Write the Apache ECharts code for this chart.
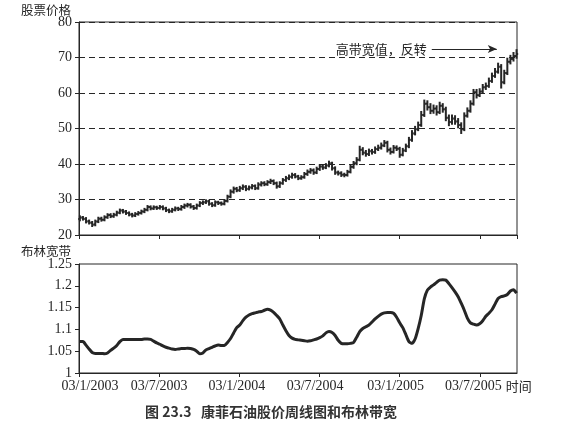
<!DOCTYPE html>
<html>
<head>
<meta charset="utf-8">
<script src="https://cdn.jsdelivr.net/npm/echarts@6/dist/echarts.min.js"></script>
<style>
html,body{margin:0;padding:0;background:#fff;}
#chart{width:566px;height:443px;}
</style>
</head>
<body>
<div id="chart"></div>
<script>
// Weekly bars, first week ending early January 2003
const priceOpen = [
24.5,24.9,24.5,23.9,23.4,23.0,23.8,24.6,24.3,25.0,
25.6,25.3,25.7,26.3,26.9,26.6,26.2,25.8,25.5,25.9,
26.2,26.6,27.1,27.9,27.5,27.8,27.6,27.9,27.5,27.0,
26.7,27.1,27.5,27.3,27.9,28.3,28.5,28.0,27.6,28.3,
29.0,29.2,29.5,28.8,28.4,29.2,29.0,28.8,29.6,30.8,
32.2,33.0,32.6,33.2,33.6,33.0,33.4,33.8,33.2,34.2,
34.6,34.3,34.9,35.2,34.6,33.7,34.6,35.5,36.0,36.4,
36.9,36.5,36.0,36.3,37.2,37.8,38.2,37.6,38.6,39.3,
39.0,39.6,40.2,38.8,37.6,37.4,37.0,36.9,37.8,39.2,
40.2,41.2,44.0,43.2,42.8,43.6,43.4,44.2,44.6,45.2,
46.0,44.0,43.4,44.6,44.3,42.6,43.8,45.0,46.8,48.6,
49.8,51.0,53.8,57.0,56.0,55.0,55.6,54.6,56.4,55.4,
53.0,51.8,52.8,52.0,51.0,49.8,53.6,55.0,57.0,60.2,
59.4,60.4,61.6,62.0,63.4,64.8,66.0,67.4,63.0,65.6,
68.8,69.6,70.4
];
const priceHigh = [
25.4,25.2,24.9,24.2,23.8,24.2,25.0,25.0,25.4,26.0,
26.0,26.1,26.7,27.3,27.2,26.9,26.5,26.1,26.3,26.6,
27.0,27.5,28.3,28.2,28.2,28.1,28.3,28.2,27.8,27.3,
27.5,27.9,27.8,28.3,28.7,28.9,28.8,28.3,28.7,29.4,
29.6,29.9,29.8,29.1,29.6,29.5,29.3,30.0,31.2,32.7,
33.5,33.4,33.7,34.1,33.9,33.8,34.2,34.1,34.7,35.0,
35.0,35.3,35.7,35.5,34.9,35.0,35.9,36.5,36.9,37.4,
37.3,36.8,36.7,37.6,38.3,38.7,38.6,39.1,39.8,39.7,
40.1,40.8,40.5,39.2,38.0,37.8,37.4,38.2,39.7,40.7,
41.8,45.0,44.6,43.8,44.2,44.1,44.8,45.3,45.9,46.6,
46.4,44.5,45.2,45.1,44.7,44.4,45.6,47.5,49.4,50.6,
51.8,54.8,58.0,57.8,57.0,56.6,56.4,57.4,57.0,56.0,
53.8,53.8,53.6,52.8,51.6,54.4,55.8,57.8,61.0,61.0,
61.2,62.4,62.8,64.2,65.6,66.9,68.4,68.0,66.4,69.8,
70.6,71.4,72.2
];
const priceLow = [
24.0,24.2,23.4,23.1,22.4,22.6,23.5,23.9,24.0,24.7,
24.9,25.0,25.4,26.0,26.2,25.8,25.4,25.1,25.2,25.6,
25.9,26.3,26.8,27.1,27.2,27.2,27.3,27.1,26.6,26.3,
26.4,26.8,26.9,27.0,27.5,27.9,27.6,27.2,27.3,28.0,
28.6,28.9,28.4,28.0,28.1,28.6,28.4,28.5,29.3,30.5,
31.8,32.2,32.3,32.8,32.5,32.7,33.0,32.8,32.9,33.8,
33.9,34.0,34.5,34.2,33.2,33.4,34.3,35.1,35.6,36.0,
36.1,35.6,35.7,36.0,36.8,37.4,37.1,37.3,38.2,38.5,
38.7,39.2,38.3,37.1,36.9,36.5,36.4,36.6,37.5,38.8,
39.8,40.9,42.6,42.2,42.4,42.8,43.0,43.8,44.2,44.9,
43.4,42.8,43.1,43.8,41.9,42.3,43.5,44.6,46.4,48.2,
49.4,50.6,53.4,55.2,54.2,54.3,53.8,54.2,54.6,52.2,
50.8,51.2,51.2,50.2,48.6,49.4,53.2,54.6,56.6,58.6,
59.0,60.0,61.0,61.6,63.0,64.4,65.6,61.4,62.6,65.2,
68.2,69.0,69.8
];
const priceClose = [
24.9,24.6,23.8,23.5,22.9,23.8,24.6,24.3,25.0,25.6,
25.3,25.7,26.3,26.9,26.6,26.2,25.8,25.5,25.9,26.2,
26.6,27.1,27.9,27.5,27.8,27.6,27.9,27.5,27.0,26.7,
27.1,27.5,27.3,27.9,28.3,28.5,28.0,27.6,28.3,29.0,
29.2,29.5,28.8,28.4,29.2,29.0,28.8,29.6,30.8,32.2,
33.0,32.6,33.2,33.6,33.0,33.4,33.8,33.2,34.2,34.6,
34.3,34.9,35.2,34.6,33.7,34.6,35.5,36.0,36.4,36.9,
36.5,36.0,36.3,37.2,37.8,38.2,37.6,38.6,39.3,39.0,
39.6,40.2,38.8,37.6,37.4,37.0,36.9,37.8,39.2,40.2,
41.2,44.0,43.2,42.8,43.6,43.4,44.2,44.6,45.2,46.0,
44.0,43.4,44.6,44.3,42.6,43.8,45.0,46.8,48.6,49.8,
51.0,53.8,57.0,56.0,55.0,55.6,54.6,56.4,55.4,53.0,
51.8,52.8,52.0,51.0,49.8,53.6,55.0,57.0,60.2,59.4,
60.4,61.6,62.0,63.4,64.8,66.0,67.4,63.0,65.6,68.8,
69.6,70.4,71.0
];
const bandWidth = [
1.072,1.072,1.064,1.055,1.047,1.045,1.045,1.045,1.044,1.046,
1.052,1.057,1.063,1.072,1.077,1.077,1.077,1.077,1.077,1.077,
1.077,1.078,1.078,1.077,1.073,1.069,1.066,1.062,1.059,1.057,
1.055,1.054,1.055,1.056,1.056,1.057,1.056,1.054,1.050,1.044,
1.046,1.053,1.056,1.059,1.062,1.064,1.063,1.063,1.070,1.079,
1.092,1.104,1.110,1.120,1.128,1.133,1.136,1.138,1.140,1.141,
1.144,1.146,1.144,1.139,1.132,1.124,1.110,1.097,1.086,1.080,
1.077,1.076,1.075,1.074,1.073,1.074,1.076,1.078,1.081,1.085,
1.092,1.095,1.093,1.086,1.075,1.068,1.067,1.067,1.068,1.070,
1.082,1.095,1.102,1.106,1.110,1.117,1.124,1.130,1.135,1.138,
1.139,1.139,1.137,1.128,1.115,1.104,1.088,1.072,1.068,1.078,
1.102,1.132,1.170,1.190,1.197,1.202,1.208,1.213,1.214,1.213,
1.205,1.196,1.186,1.175,1.160,1.144,1.126,1.115,1.112,1.110,
1.113,1.120,1.130,1.137,1.145,1.158,1.171,1.175,1.177,1.180,
1.188,1.191,1.183
];
const xTickLabels = ['03/1/2003','03/7/2003','03/1/2004','03/7/2004','03/1/2005','03/7/2005'];
const priceTicks = [20, 30, 40, 50, 60, 70, 80];
const bandTicks = [1, 1.05, 1.1, 1.15, 1.2, 1.25];
const annotationText = '高带宽值，反转';

// x position of each weekly bar, in days from 3 Jan 2003
const weekDays = priceClose.map((_, i) => 2 + i * 7);
const halfYear = 182.5;
const dayMax = 997;

const ink = '#262626';
const serif = '"Liberation Serif","DejaVu Serif",serif';
const cjk = '"Noto Sans CJK SC","Noto Sans",sans-serif';

const chart = echarts.init(document.getElementById('chart'), null, {renderer: 'canvas'});

function xLabel(v) {
  const idx = Math.round(v / halfYear);
  if (Math.abs(v - idx * halfYear) > 1 || idx >= xTickLabels.length) return '';
  return '{l' + idx + '|' + xTickLabels[idx] + '}';
}
const lblBase = {fontFamily: serif, fontSize: 14, color: ink};
const xRich = {
  l0: Object.assign({}, lblBase, {padding: [0, 0, 0, 22]}),
  l1: Object.assign({}, lblBase, {padding: [0, 0, 0, 0]}),
  l2: Object.assign({}, lblBase, {padding: [0, 5, 0, 0]}),
  l3: Object.assign({}, lblBase, {padding: [0, 9, 0, 0]}),
  l4: Object.assign({}, lblBase, {padding: [0, 8, 0, 0]}),
  l5: Object.assign({}, lblBase, {padding: [0, 13, 0, 0]})
};

const ohlcData = priceClose.map((c, i) => [weekDays[i], priceOpen[i], priceHigh[i], priceLow[i], c]);
const bwData = bandWidth.map((v, i) => [weekDays[i], v]);

const option = {
  backgroundColor: '#fff',
  animation: false,
  title: [
    {text: '股票价格', left: 21, top: 4, padding: 0, textStyle: {fontFamily: cjk, fontSize: 12.5, fontWeight: 'normal', color: ink}},
    {text: '布林宽带', left: 21, top: 245, padding: 0, textStyle: {fontFamily: cjk, fontSize: 12.5, fontWeight: 'normal', color: ink}},
    {text: '图 23.3   康菲石油股价周线图和布林带宽', left: 145, top: 405, padding: 0,
     textStyle: {fontFamily: cjk, fontSize: 14, fontWeight: 'bold', color: '#333'}}
  ],
  grid: [
    {left: 79, top: 22, width: 438, height: 213, show: true, borderColor: ink, borderWidth: 1, backgroundColor: 'transparent'},
    {left: 79, top: 264, width: 438, height: 109, show: true, borderColor: ink, borderWidth: 1, backgroundColor: 'transparent'}
  ],
  xAxis: [
    {type: 'value', gridIndex: 0, min: 0, max: dayMax, interval: halfYear,
     axisLine: {show: true, lineStyle: {color: ink, width: 1}},
     axisTick: {show: true, length: 4, lineStyle: {color: ink}},
     axisLabel: {show: false}, splitLine: {show: false}},
    {type: 'value', gridIndex: 1, min: 0, max: dayMax, interval: halfYear,
     name: '时间', nameLocation: 'end', nameGap: -25,
     nameTextStyle: {fontFamily: cjk, fontSize: 13, color: ink, align: 'left', verticalAlign: 'top', padding: [7, 0, 0, 0]},
     axisLine: {show: true, lineStyle: {color: ink, width: 1}},
     axisTick: {show: true, length: 4, lineStyle: {color: ink}},
     axisLabel: {show: true, formatter: xLabel, fontFamily: serif, fontSize: 14, color: ink, margin: 6,
       showMaxLabel: false, rich: xRich},
     splitLine: {show: false}}
  ],
  yAxis: [
    {type: 'value', gridIndex: 0, min: priceTicks[0], max: priceTicks[priceTicks.length - 1], interval: 10,
     axisLine: {show: true, lineStyle: {color: ink, width: 1}},
     axisTick: {show: true, length: 4, lineStyle: {color: ink}},
     axisLabel: {fontFamily: serif, fontSize: 14, color: ink, margin: 7},
     splitLine: {show: true, lineStyle: {color: ink, width: 1, type: [6, 4]}}},
    {type: 'value', gridIndex: 1, min: bandTicks[0], max: bandTicks[bandTicks.length - 1], interval: 0.05,
     axisLine: {show: true, lineStyle: {color: ink, width: 1}},
     axisTick: {show: true, length: 4, lineStyle: {color: ink}},
     axisLabel: {fontFamily: serif, fontSize: 14, color: ink, margin: 7},
     splitLine: {show: false}}
  ],
  series: [
    {
      type: 'custom', xAxisIndex: 0, yAxisIndex: 0,
      encode: {x: 0, y: [1, 2, 3, 4]},
      data: ohlcData,
      renderItem: function (params, api) {
        const x = api.value(0);
        const pO = api.coord([x, api.value(1)]);
        const pH = api.coord([x, api.value(2)]);
        const pL = api.coord([x, api.value(3)]);
        const pC = api.coord([x, api.value(4)]);
        const st = {stroke: ink, lineWidth: 2};
        return {type: 'group', children: [
          {type: 'line', shape: {x1: pH[0], y1: pH[1] - 0.5, x2: pL[0], y2: pL[1] + 0.5}, style: st},
          {type: 'line', shape: {x1: pO[0] - 1.6, y1: pO[1], x2: pO[0], y2: pO[1]}, style: st},
          {type: 'line', shape: {x1: pC[0], y1: pC[1], x2: pC[0] + 1.6, y2: pC[1]}, style: st}
        ]};
      },
      markLine: {
        silent: true,
        symbol: ['none', 'arrow'],
        symbolSize: [6, 9],
        lineStyle: {color: ink, width: 1, type: 'solid'},
        label: {show: true, position: 'start', distance: 5, formatter: annotationText,
                fontFamily: cjk, fontSize: 13, color: ink},
        data: [[{coord: [803, 72.4]}, {coord: [951, 72.4]}]]
      }
    },
    {
      type: 'line', xAxisIndex: 1, yAxisIndex: 1,
      data: bwData, showSymbol: false, smooth: 0.2,
      lineStyle: {color: ink, width: 3}
    }
  ]
};
chart.setOption(option);
</script>
</body>
</html>
